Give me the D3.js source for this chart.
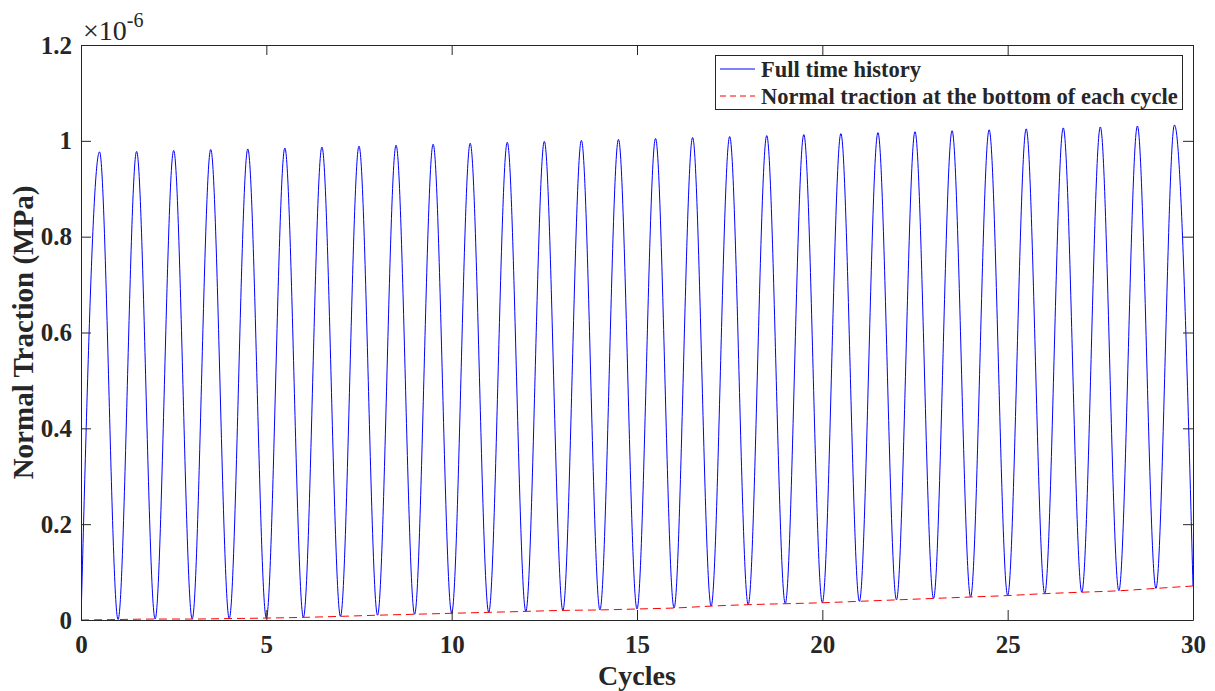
<!DOCTYPE html>
<html>
<head>
<meta charset="utf-8">
<script src="https://cdn.jsdelivr.net/npm/d3@7"></script>
<style>
  html, body { margin: 0; padding: 0; background: #ffffff; }
  svg { display: block; }
  text { font-family: "Liberation Serif", "Times New Roman", serif; fill: #262626; }
</style>
</head>
<body>
<svg id="chart" width="1215" height="691"></svg>
<script>
// ---- Data (values in units of 1e-6 MPa) ----
const cycleStart = [0,1,2,3,4,5,6,7,8,9,10,11,12,13,14,15,16,17,18,19,20,21,22,23,24,25,26,27,28,29,30];
const troughValues = [0.000,0.001,0.002,0.002,0.003,0.004,0.0055,0.0076,0.010,0.012,0.014,0.016,0.018,0.020,0.021,0.023,0.025,0.029,0.032,0.034,0.036,0.039,0.042,0.045,0.048,0.051,0.055,0.058,0.061,0.066,0.071];
const peakTimes = [0.5,1.5,2.5,3.5,4.5,5.5,6.5,7.5,8.5,9.5,10.5,11.5,12.5,13.5,14.5,15.5,16.5,17.5,18.5,19.5,20.5,21.5,22.5,23.5,24.5,25.5,26.5,27.5,28.5,29.5];
const peakValues = [0.977,0.978,0.980,0.982,0.983,0.985,0.987,0.989,0.991,0.993,0.995,0.997,0.999,1.001,1.003,1.005,1.007,1.009,1.011,1.013,1.015,1.017,1.019,1.021,1.023,1.025,1.027,1.029,1.031,1.033];
const xTicks = [0,5,10,15,20,25,30];
const yTicks = [0,0.2,0.4,0.6,0.8,1,1.2];
const seriesNames = ["Full time history", "Normal traction at the bottom of each cycle"];

// ---- Layout ----
const svg = d3.select("#chart");
const mLeft = 81, mRight = 1193, mTop = 45, mBottom = 620;
const x = d3.scaleLinear().domain([0, 30]).range([mLeft, mRight]);
const y = d3.scaleLinear().domain([0, 1.2]).range([mBottom, mTop]);
const axisColor = "#262626";

// full history from troughs and peaks
const history = [];
cycleStart.forEach((c, i) => {
  history.push([c, troughValues[i]]);
  if (i < peakTimes.length) history.push([peakTimes[i], peakValues[i]]);
});
const bottomsData = cycleStart.map((c, i) => [c, troughValues[i]]);

svg.append("clipPath").attr("id", "clip")
  .append("rect").attr("x", mLeft).attr("y", mTop).attr("width", mRight - mLeft).attr("height", mBottom - mTop);

const plot = svg.append("g").attr("clip-path", "url(#clip)");
plot.append("path")
  .datum(history)
  .attr("fill", "none")
  .attr("stroke", "#0000ff")
  .attr("stroke-width", 1)
  .attr("d", d3.line().x(d => x(d[0])).y(d => y(d[1])).curve(d3.curveMonotoneX));

plot.append("path")
  .datum(bottomsData)
  .attr("fill", "none")
  .attr("stroke", "#ff0000")
  .attr("stroke-width", 1)
  .attr("stroke-dasharray", "8,5")
  .attr("d", d3.line().x(d => x(d[0])).y(d => y(d[1])).curve(d3.curveMonotoneX));

// ---- Axes ----
const fmtY = d => (d === 0 ? "0" : d === 1 ? "1" : d3.format(".1f")(d));
const xAxisB = d3.axisBottom(x).tickValues(xTicks).tickSizeInner(-10).tickSizeOuter(0).tickPadding(15).tickFormat(d3.format("d"));
const xAxisT = d3.axisTop(x).tickValues(xTicks).tickSizeInner(-10).tickSizeOuter(0).tickFormat("");
const yAxisL = d3.axisLeft(y).tickValues(yTicks).tickSizeInner(-10).tickSizeOuter(0).tickPadding(9).tickFormat(fmtY);
const yAxisR = d3.axisRight(y).tickValues(yTicks).tickSizeInner(-10).tickSizeOuter(0).tickFormat("");

function style(g) {
  g.select(".domain").attr("stroke", axisColor).attr("stroke-width", 1);
  g.selectAll(".tick line").attr("stroke", axisColor).attr("stroke-width", 1);
  g.selectAll(".tick text").attr("font-family", "Liberation Serif, serif").attr("font-weight", "bold").attr("font-size", 25).attr("fill", axisColor);
}
svg.append("g").attr("transform", `translate(0,${mBottom})`).call(xAxisB).call(style);
svg.append("g").attr("transform", `translate(0,${mTop})`).call(xAxisT).call(style);
svg.append("g").attr("transform", `translate(${mLeft},0)`).call(yAxisL).call(style);
svg.append("g").attr("transform", `translate(${mRight},0)`).call(yAxisR).call(style);

// exponent label
const expo = svg.append("text").attr("x", 83).attr("y", 40).attr("font-size", 28);
expo.append("tspan").text("×10");
expo.append("tspan").attr("font-size", 20).attr("dy", -13).text("-6");

// axis titles
svg.append("text").attr("x", (mLeft + mRight) / 2).attr("y", 685).attr("text-anchor", "middle")
  .attr("font-weight", "bold").attr("font-size", 28).text("Cycles");
svg.append("text").attr("transform", `translate(33,${(mTop + mBottom) / 2}) rotate(-90)`).attr("text-anchor", "middle")
  .attr("font-weight", "bold").attr("font-size", 29).text("Normal Traction (MPa)");

// ---- Legend ----
const lg = svg.append("g");
lg.append("rect").attr("x", 715.5).attr("y", 55.5).attr("width", 467).attr("height", 54)
  .attr("fill", "#ffffff").attr("stroke", axisColor).attr("stroke-width", 1);
const legendRows = [
  { name: seriesNames[0], color: "#0000ff", dash: null, yy: 69 },
  { name: seriesNames[1], color: "#ff0000", dash: "6,4", yy: 96 }
];
legendRows.forEach(r => {
  lg.append("line").attr("x1", 720).attr("x2", 755).attr("y1", r.yy).attr("y2", r.yy)
    .attr("stroke", r.color).attr("stroke-width", 1).attr("stroke-dasharray", r.dash);
  lg.append("text").attr("x", 761).attr("y", r.yy + 8).attr("font-weight", "bold").attr("font-size", 22.5)
    .attr("fill", "#000000").text(r.name);
});
</script>
</body>
</html>
